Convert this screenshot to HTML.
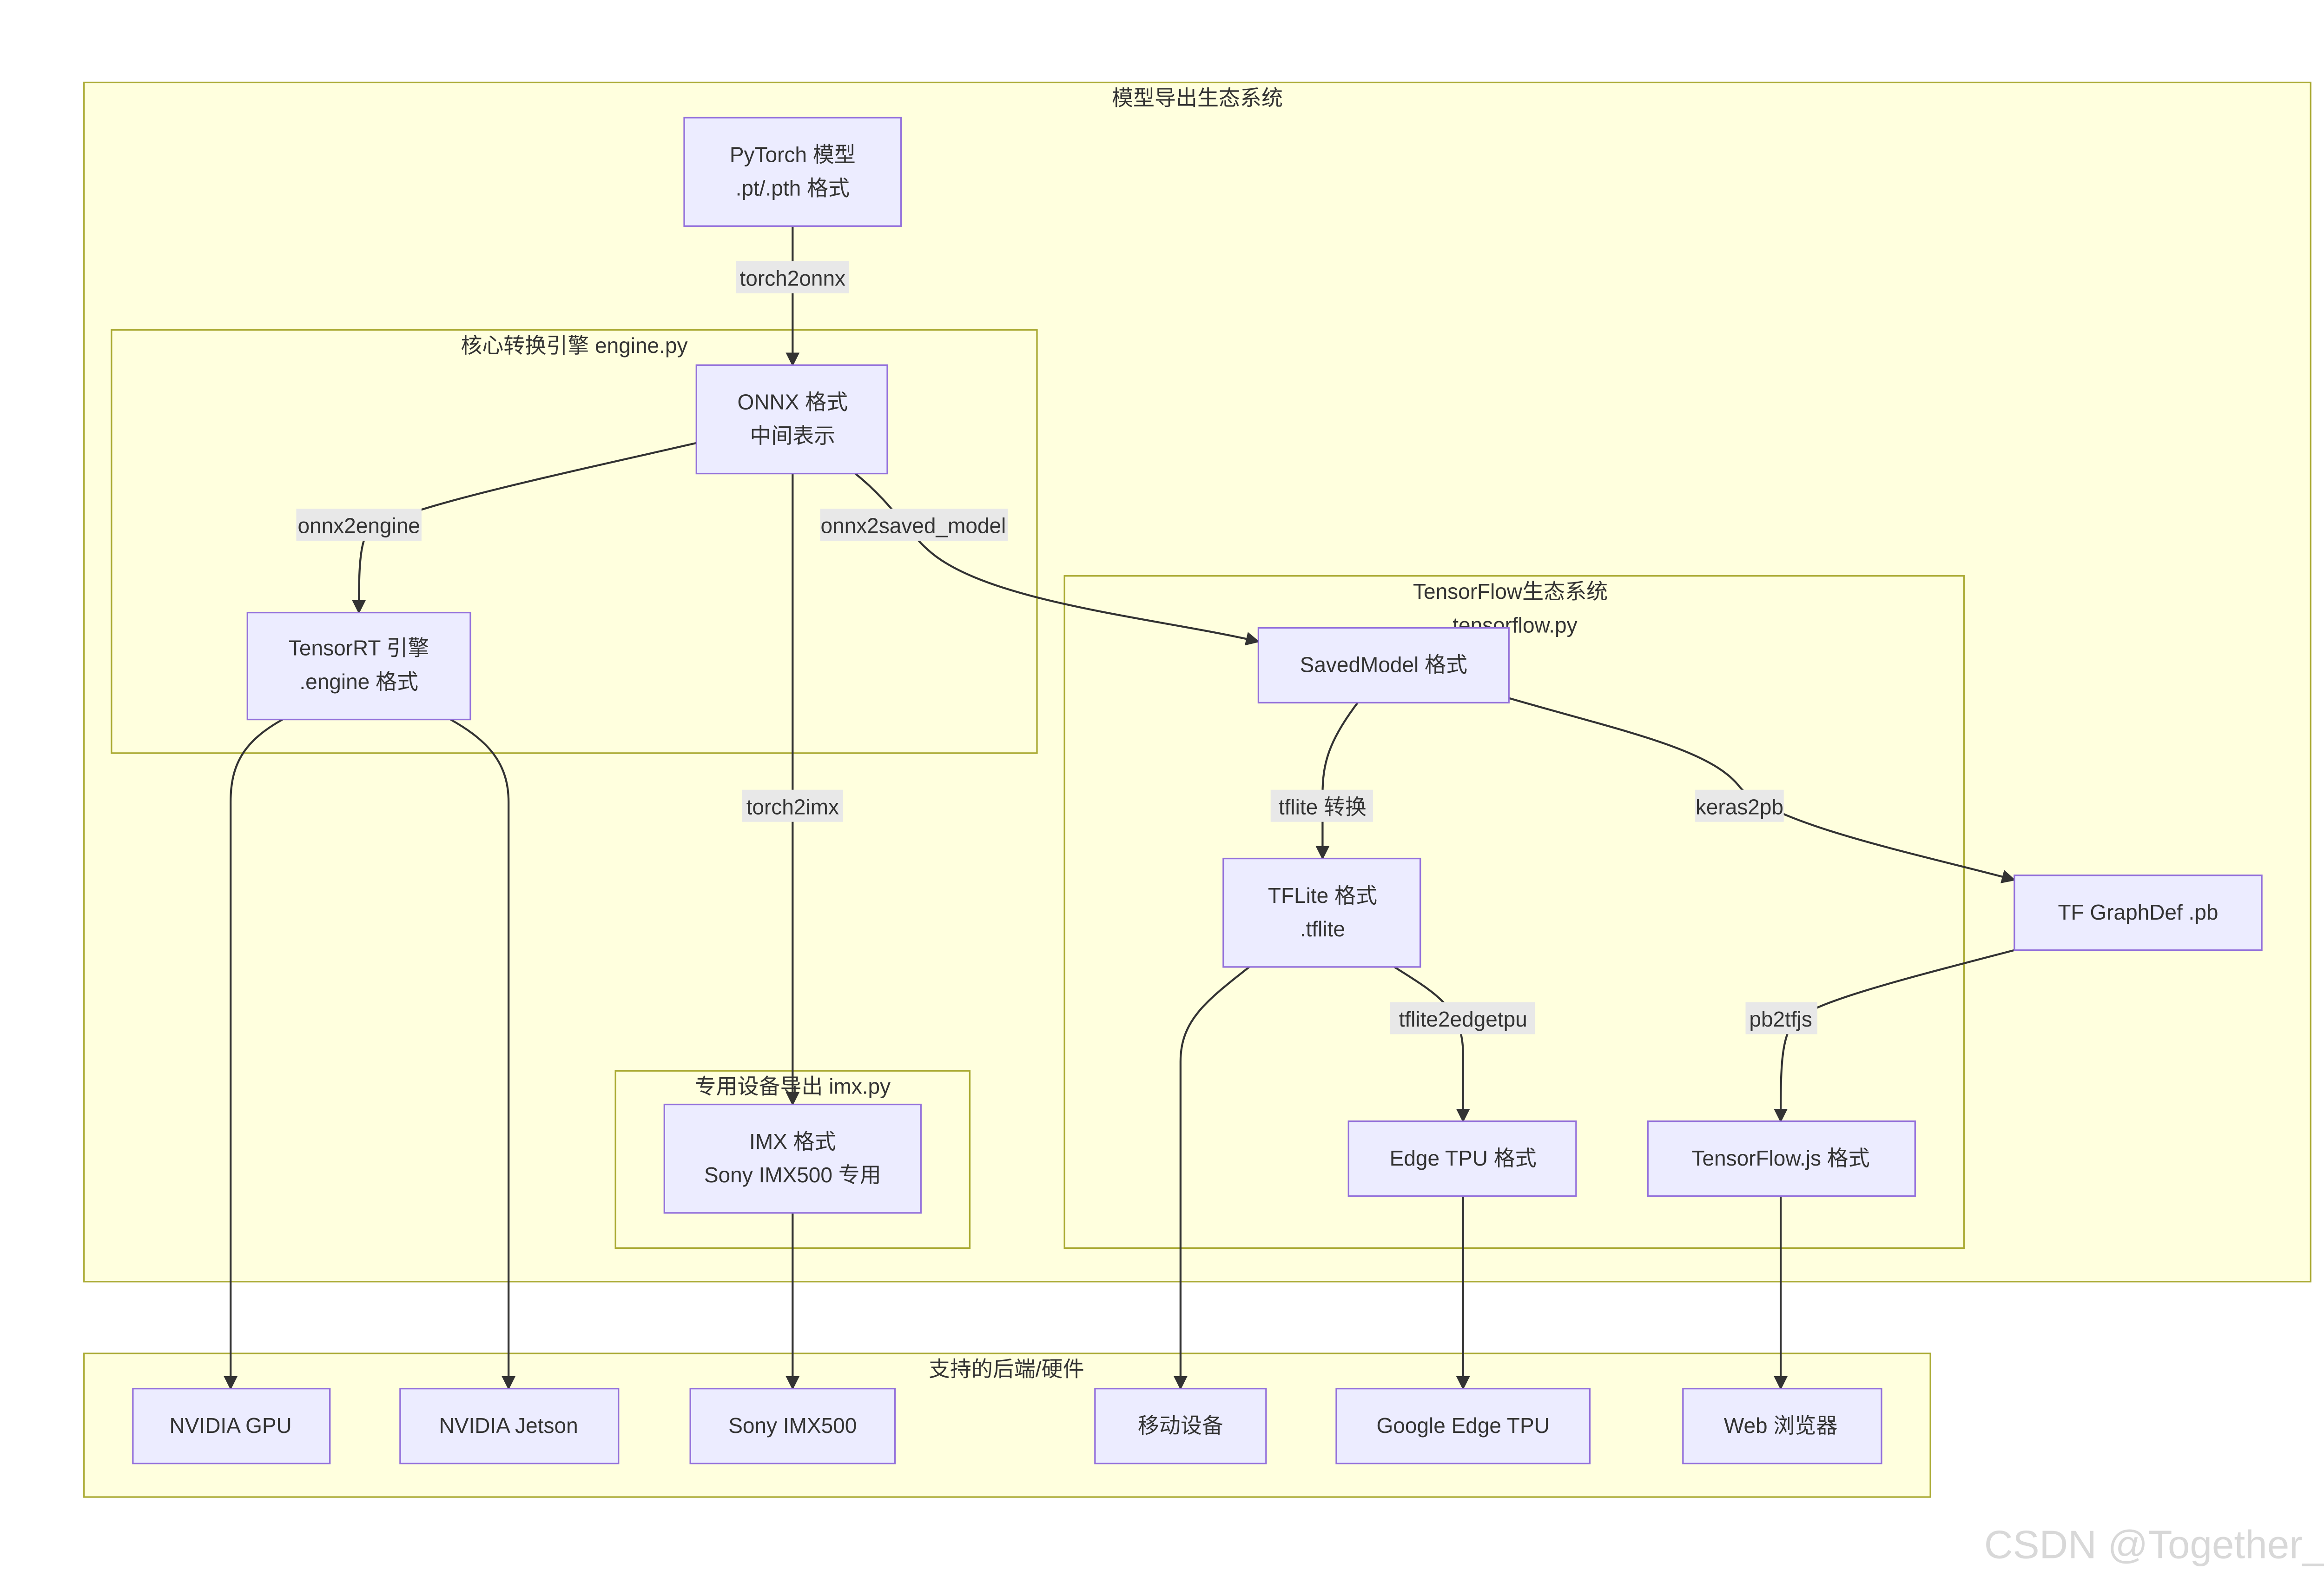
<!DOCTYPE html>
<html><head><meta charset="utf-8"><style>
html,body{margin:0;padding:0;background:#fff;}
svg text{font-family:"Liberation Sans","Noto Sans CJK SC",sans-serif;fill:#333;}
</style></head><body>
<svg width="5152" height="3402" viewBox="0 0 1568 1035.4" xmlns="http://www.w3.org/2000/svg">
<defs><marker id="a" viewBox="0 0 10 10" refX="9" refY="5" markerWidth="7" markerHeight="7" orient="auto"><path d="M0,0L10,5L0,10z" fill="#333"/></marker></defs>
<rect width="1568" height="1036" fill="#fff"/>
<g fill="#ffffde" stroke="#aaaa33" stroke-width="1">
<rect x="55" y="54" width="1458" height="785"/>
<rect x="73" y="216" width="606" height="277"/>
<rect x="697" y="377" width="589" height="440"/>
<rect x="403" y="701" width="232" height="116"/>
<rect x="55" y="886" width="1209" height="94"/>
</g>
<g font-size="14" text-anchor="middle">
<text x="784" y="69">模型导出生态系统</text>
<text x="376" y="231">核心转换引擎 engine.py</text>
<text x="989" y="392">TensorFlow生态系统</text>
<text x="992" y="414">tensorflow.py</text>
<text x="519" y="716">专用设备导出 imx.py</text>
<text x="659" y="901">支持的后端/硬件</text>
</g>
<g fill="none" stroke="#333" stroke-width="1.3" marker-end="url(#a)">
<path d="M519,148V239"/>
<path d="M456,290C360,312 250,335 240,350 C235,358 235,380 235,401"/>
<path d="M519,310V723"/>
<path d="M560,310C585,330 595,350 610,362 C650,395 760,405 824,420"/>
<path d="M185,471C160,485 151,500 151,525V909"/>
<path d="M295,471C320,485 333,500 333,525V909"/>
<path d="M519,794V909"/>
<path d="M889,460C870,485 866,500 866,520V562"/>
<path d="M988,457C1060,478 1120,490 1139,515 C1160,540 1260,560 1319,576"/>
<path d="M818,633C790,655 773,668 773,695V909"/>
<path d="M913,633C940,650 958,660 958,690V734"/>
<path d="M1319,622C1250,640 1190,655 1175,668 C1166,680 1166,700 1166,734"/>
<path d="M958,783V909"/>
<path d="M1166,783V909"/>
</g>
<g fill="#e8e8e8">
<rect x="482" y="171" width="74" height="21"/>
<rect x="194" y="333" width="82" height="21"/>
<rect x="486" y="517" width="66" height="21"/>
<rect x="537" y="333" width="123" height="21"/>
<rect x="832" y="517" width="67" height="21"/>
<rect x="1110" y="517" width="58" height="21"/>
<rect x="910" y="656" width="95" height="21"/>
<rect x="1143" y="656" width="47" height="21"/>
</g>
<g font-size="14" text-anchor="middle">
<text x="519" y="187">torch2onnx</text>
<text x="235" y="349">onnx2engine</text>
<text x="519" y="533">torch2imx</text>
<text x="598" y="349">onnx2saved_model</text>
<text x="866" y="533">tflite 转换</text>
<text x="1139" y="533">keras2pb</text>
<text x="958" y="672">tflite2edgetpu</text>
<text x="1166" y="672">pb2tfjs</text>
</g>
<g fill="#ececff" stroke="#9370db" stroke-width="1">
<rect x="448" y="77" width="142" height="71"/>
<rect x="456" y="239" width="125" height="71"/>
<rect x="162" y="401" width="146" height="70"/>
<rect x="824" y="411" width="164" height="49"/>
<rect x="801" y="562" width="129" height="71"/>
<rect x="1319" y="573" width="162" height="49"/>
<rect x="435" y="723" width="168" height="71"/>
<rect x="883" y="734" width="149" height="49"/>
<rect x="1079" y="734" width="175" height="49"/>
<rect x="87" y="909" width="129" height="49"/>
<rect x="262" y="909" width="143" height="49"/>
<rect x="452" y="909" width="134" height="49"/>
<rect x="717" y="909" width="112" height="49"/>
<rect x="875" y="909" width="166" height="49"/>
<rect x="1102" y="909" width="130" height="49"/>
</g>
<g font-size="14" text-anchor="middle">
<text x="519" y="106">PyTorch 模型</text><text x="519" y="128">.pt/.pth 格式</text>
<text x="519" y="268">ONNX 格式</text><text x="519" y="290">中间表示</text>
<text x="235" y="429">TensorRT 引擎</text><text x="235" y="451">.engine 格式</text>
<text x="906" y="440">SavedModel 格式</text>
<text x="866" y="591">TFLite 格式</text><text x="866" y="613">.tflite</text>
<text x="1400" y="602">TF GraphDef .pb</text>
<text x="519" y="752">IMX 格式</text><text x="519" y="774">Sony IMX500 专用</text>
<text x="958" y="763">Edge TPU 格式</text>
<text x="1166" y="763">TensorFlow.js 格式</text>
<text x="151" y="938">NVIDIA GPU</text>
<text x="333" y="938">NVIDIA Jetson</text>
<text x="519" y="938">Sony IMX500</text>
<text x="773" y="938">移动设备</text>
<text x="958" y="938">Google Edge TPU</text>
<text x="1166" y="938">Web 浏览器</text>
</g>
<text x="1428" y="1020" font-size="26" text-anchor="middle" style="fill:#d8d8d8">CSDN @Together_CZ</text>
</svg>
</body></html>
